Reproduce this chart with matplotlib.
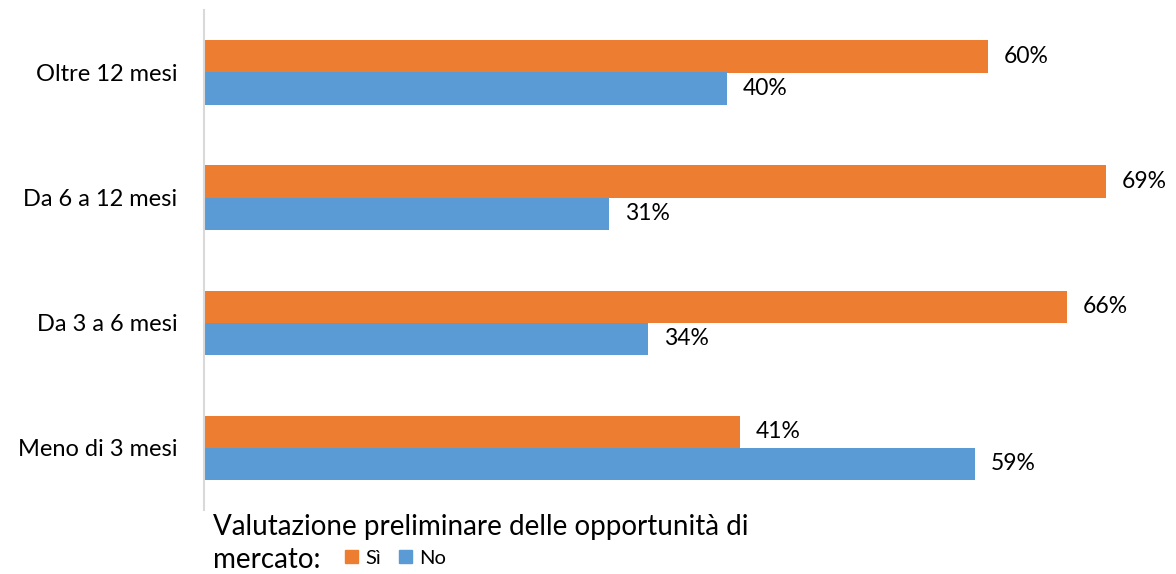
import matplotlib
matplotlib.use("Agg")
import matplotlib.pyplot as plt
from matplotlib.patches import Patch
import numpy as np

plt.rcParams['font.family'] = ['Lato', 'DejaVu Sans']

categories = ["Meno di 3 mesi", "Da 3 a 6 mesi", "Da 6 a 12 mesi", "Oltre 12 mesi"]
si_values = [41, 66, 69, 60]
no_values = [59, 34, 31, 40]
series_names = ["Sì", "No"]
legend_title = ["Valutazione preliminare delle opportunità di", "mercato:"]

orange = "#ED7D31"
blue = "#5B9BD5"

W, H = 1176, 574
fig = plt.figure(figsize=(W / 100, H / 100), dpi=100)
ax = fig.add_axes([204 / W, 1 - 510 / H, (1150 - 204) / W, 500 / H])

y = np.arange(len(categories))
h = 0.256
ax.barh(y + h / 2, si_values, height=h, color=orange)
ax.barh(y - h / 2, no_values, height=h, color=blue)

for yi, v in zip(y, si_values):
    ax.annotate(f"{v}%", (v, yi + h / 2), xytext=(11.5, 0), textcoords="offset points",
                va="center", ha="left", fontsize=16.5, color="#000000", annotation_clip=False)
for yi, v in zip(y, no_values):
    ax.annotate(f"{v}%", (v, yi - h / 2), xytext=(11.5, 0), textcoords="offset points",
                va="center", ha="left", fontsize=16.5, color="#000000", annotation_clip=False)

ax.set_xlim(0, (1150 - 204) / 13.07)
ax.set_ylim(-0.5, len(categories) - 0.5)
ax.set_yticks(y)
ax.set_yticklabels(categories, fontsize=17)
ax.tick_params(axis='y', length=0, pad=19)
ax.set_xticks([])
for s in ["top", "right", "bottom"]:
    ax.spines[s].set_visible(False)
ax.spines["left"].set_color("#D9D9D9")
ax.spines["left"].set_linewidth(1.5)

fig.text(213 / W, 1 - 527 / H, legend_title[0], fontsize=20, va="center", ha="left")
fig.text(213 / W, 1 - 560 / H, legend_title[1], fontsize=20, va="center", ha="left")
handles = [Patch(color=orange, label=series_names[0]), Patch(color=blue, label=series_names[1])]
fig.legend(handles=handles, loc="center left", bbox_to_anchor=(345 / W, 1 - 558 / H), ncol=2,
           frameon=False, fontsize=14.5, handlelength=0.65, handleheight=0.65, handletextpad=0.35,
           columnspacing=0.9, borderaxespad=0, borderpad=0)

fig.savefig("out.png", dpi=100)
